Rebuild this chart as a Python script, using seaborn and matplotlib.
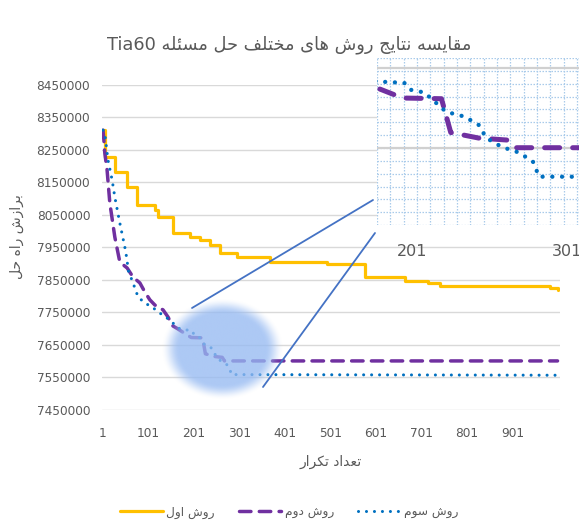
import numpy as np
import pandas as pd
import matplotlib
matplotlib.use("Agg")
import matplotlib.pyplot as plt
import seaborn as sns
from matplotlib.lines import Line2D
from matplotlib.patches import ConnectionPatch

# ---------------- data ----------------
iter_s1 = [1, 5, 27, 54, 76, 115, 122, 155, 192, 214, 236, 258, 296, 368, 493,
           577, 665, 715, 742, 983, 1000]
val_s1 = [8311000, 8228000, 8182000, 8136000, 8081000, 8065000, 8044000, 7994000,
          7982000, 7973000, 7958000, 7933000, 7921000, 7905000, 7899000, 7859000,
          7847000, 7841000, 7832000, 7825000, 7819000]

iter_s2 = [1, 3, 5, 10, 16, 27, 38, 54, 67, 82, 93, 104, 115, 133, 144, 153, 165,
           178, 195, 220, 226, 244, 263, 268, 1000]
val_s2 = [8311000, 8280000, 8240000, 8188000, 8087000, 7982000, 7905000, 7887000,
          7859000, 7841000, 7813000, 7789000, 7773000, 7758000, 7736000, 7710000,
          7700000, 7688000, 7673000, 7672000, 7623000, 7615000, 7612000, 7601000,
          7601000]

iter_s3 = [1, 5, 12, 21, 27, 38, 49, 54, 56, 67, 78, 93, 109, 122, 148, 166, 178,
           196, 200, 209, 214, 223, 235, 244, 249, 259, 270, 279, 283, 1000]
val_s3 = [8311000, 8300000, 8219000, 8158000, 8105000, 8025000, 7951000, 7911000,
          7881000, 7841000, 7798000, 7779000, 7767000, 7752000, 7727000, 7702000,
          7697000, 7695000, 7685000, 7681000, 7671000, 7653000, 7646000, 7634000,
          7615000, 7602000, 7594000, 7581000, 7559000, 7557000]

series_names = ["روش اول", "روش دوم", "روش سوم"]
title_ar = "مقایسه نتایج روش های مختلف حل مسئله"
title_lat = "Tia60"
x_label = "تعداد تکرار"
y_label = "برازش راه حل"
x_ticks = [1, 101, 201, 301, 401, 501, 601, 701, 801, 901]
y_ticks = [7450000, 7550000, 7650000, 7750000, 7850000, 7950000, 8050000,
           8150000, 8250000, 8350000, 8450000]
inset_ticks = [201, 301]

# ---------------- minimal Persian shaping (presentation forms) ----------------
FORMS = {
    "\u0627": ("\uFE8D", "\uFE8E", None, None),
    "\u0628": ("\uFE8F", "\uFE90", "\uFE91", "\uFE92"),
    "\u062A": ("\uFE95", "\uFE96", "\uFE97", "\uFE98"),
    "\u062C": ("\uFE9D", "\uFE9E", "\uFE9F", "\uFEA0"),
    "\u062D": ("\uFEA1", "\uFEA2", "\uFEA3", "\uFEA4"),
    "\u062E": ("\uFEA5", "\uFEA6", "\uFEA7", "\uFEA8"),
    "\u062F": ("\uFEA9", "\uFEAA", None, None),
    "\u0631": ("\uFEAD", "\uFEAE", None, None),
    "\u0632": ("\uFEAF", "\uFEB0", None, None),
    "\u0633": ("\uFEB1", "\uFEB2", "\uFEB3", "\uFEB4"),
    "\u0634": ("\uFEB5", "\uFEB6", "\uFEB7", "\uFEB8"),
    "\u0639": ("\uFEC9", "\uFECA", "\uFECB", "\uFECC"),
    "\u0641": ("\uFED1", "\uFED2", "\uFED3", "\uFED4"),
    "\u0642": ("\uFED5", "\uFED6", "\uFED7", "\uFED8"),
    "\u0643": ("\uFED9", "\uFEDA", "\uFEDB", "\uFEDC"),
    "\u0644": ("\uFEDD", "\uFEDE", "\uFEDF", "\uFEE0"),
    "\u0645": ("\uFEE1", "\uFEE2", "\uFEE3", "\uFEE4"),
    "\u0646": ("\uFEE5", "\uFEE6", "\uFEE7", "\uFEE8"),
    "\u0647": ("\uFEE9", "\uFEEA", "\uFEEB", "\uFEEC"),
    "\u0648": ("\uFEED", "\uFEEE", None, None),
    "\u0626": ("\uFE89", "\uFE8A", "\uFE8B", "\uFE8C"),
    "\u064A": ("\uFBFC", "\uFBFD", "\uFBFE", "\uFBFF"),
    "\u06CC": ("\uFBFC", "\uFBFD", "\uFBFE", "\uFBFF"),
    "\u06A9": ("\uFB8E", "\uFB8F", "\uFB90", "\uFB91"),
}


def rtl(text):
    chars = list(text)
    out = []
    for k, c in enumerate(chars):
        if c not in FORMS:
            out.append(c)
            continue
        prev = chars[k - 1] if k > 0 else None
        nxt = chars[k + 1] if k + 1 < len(chars) else None
        iso, fin, ini, med = FORMS[c]
        jp = prev in FORMS and FORMS[prev][2] is not None
        jn = nxt in FORMS and ini is not None
        if jp and jn:
            out.append(med)
        elif jp:
            out.append(fin)
        elif jn:
            out.append(ini)
        else:
            out.append(iso)
    return "".join(reversed(out))


# ---------------- style ----------------
sns.set_style("white")
plt.rcParams["font.family"] = ["DejaVu Sans"]
GRAY = "#595959"
C1, C2, C3 = "#FFC000", "#7030A0", "#0070C0"

W, H = 579, 521
fig = plt.figure(figsize=(W / 100, H / 100), dpi=100)

# main axes
L, R, T, B = 102, 560, 85, 410
ax = fig.add_axes([L / W, 1 - B / H, (R - L) / W, (B - T) / H])

df1 = pd.DataFrame({"it": iter_s1, "val": val_s1})
df2 = pd.DataFrame({"it": iter_s2, "val": val_s2})
df3 = pd.DataFrame({"it": iter_s3, "val": val_s3})

sns.lineplot(data=df1, x="it", y="val", ax=ax, color=C1, linewidth=2.3,
             drawstyle="steps-post", estimator=None, sort=False, legend=False)
sns.lineplot(data=df2, x="it", y="val", ax=ax, color=C2, linewidth=2.5,
             linestyle=(0, (3.3, 2.4)), dash_capstyle="round",
             estimator=None, sort=False, legend=False)
sns.lineplot(data=df3, x="it", y="val", ax=ax, color=C3, linewidth=2.2,
             linestyle=(0, (0.01, 2.6)), dash_capstyle="round",
             estimator=None, sort=False, legend=False)

xmin = 1 - (103 - L) / 0.455
xmax = 1 + (R - 103) / 0.455
ax.set_xlim(xmin, xmax)
ax.set_ylim(7450000, 8450000)
ax.set_xticks(x_ticks)
ax.set_yticks(y_ticks)
ax.set_yticklabels([str(v) for v in y_ticks])
ax.yaxis.grid(True, color="#D9D9D9", linewidth=1.0)
ax.xaxis.grid(False)
ax.set_axisbelow(True)
for s in ax.spines.values():
    s.set_visible(False)
ax.tick_params(axis="y", length=0, labelsize=8.7, colors=GRAY, pad=8.5)
ax.tick_params(axis="x", length=0, labelsize=8.7, colors=GRAY, pad=12)

ax.set_xlabel(rtl(x_label), fontsize=10, color=GRAY)
ax.xaxis.label.set_va("center")
ax.xaxis.set_label_coords(0.5, -(462 - B) / (B - T))
ax.set_ylabel(rtl(y_label), fontsize=10, color=GRAY)
ax.yaxis.label.set_va("center")
ax.yaxis.set_label_coords(-(L - 17) / (R - L), (B - 237) / (B - T))

# soft glow ellipse over the converging region
ppx = 0.455
def px2it(x):
    return 1 + (x - 103) / ppx
def py2val(y):
    return 8450000 - (y - T) / 32.5 * 100000

n = 300
gx, gy = np.meshgrid(np.linspace(-1, 1, n), np.linspace(-1, 1, n))
r = np.sqrt(gx ** 2 + gy ** 2)
a = np.clip((1 - r) / 0.3, 0, 1)
a = a * a * (3 - 2 * a) * 0.78
img = np.zeros((n, n, 4))
img[..., 0] = 150 / 255
img[..., 1] = 186 / 255
img[..., 2] = 242 / 255
img[..., 3] = a
ax.imshow(img, extent=[px2it(161), px2it(284), py2val(400), py2val(298)],
          aspect="auto", zorder=5, interpolation="bilinear")
ax.set_xlim(xmin, xmax)
ax.set_ylim(7450000, 8450000)

# ---------------- inset (magnified view) ----------------
IL, IR, IT, IB = 377, 579, 58, 225
rect = [IL / W, 1 - IB / H, (IR - IL) / W, (IB - IT) / H]
gax = fig.add_axes(rect, zorder=5)
gax.set_facecolor("white")
gax.set_xlim(0, 1)
gax.set_ylim(0, 1)
gax.set_xticks([])
gax.set_yticks([])
for s in gax.spines.values():
    s.set_visible(False)
grid_c = "#A9CBEA"
xs = np.arange(0, IR - IL + 1, 13.33) / (IR - IL)
ys = np.arange(0, IB - IT + 1, 12.85) / (IB - IT)
for xv in xs:
    gax.axvline(xv, color=grid_c, lw=0.9, ls=(0, (1.2, 1.2)))
for yv in ys:
    gax.axhline(1 - yv, color=grid_c, lw=0.9, ls=(0, (1.2, 1.2)))
for yp in (68, 148):
    gax.axhline((IB - yp) / (IB - IT), color="#D0D0D0", lw=1.6)

iax = fig.add_axes(rect, zorder=6)
iax.patch.set_alpha(0)
sns.lineplot(data=df2, x="it", y="val", ax=iax, color=C2, linewidth=3.6,
             linestyle=(0, (3.0, 2.6)), dash_capstyle="round",
             estimator=None, sort=False, legend=False)
sns.lineplot(data=df3, x="it", y="val", ax=iax, color=C3, linewidth=3.1,
             linestyle=(0, (0.01, 2.25)), dash_capstyle="round",
             estimator=None, sort=False, legend=False)
ipx = 1.55
iax.set_xlim(201 - (412 - IL) / ipx, 201 + (IR - 412) / ipx)
iax.set_ylim(7489000, 7731000)
iax.set_xticks(inset_ticks)
iax.set_yticks([])
iax.set_xlabel("")
iax.set_ylabel("")
for s in iax.spines.values():
    s.set_visible(False)
iax.tick_params(axis="x", length=0, labelsize=11.5, colors=GRAY, pad=14)

# connector lines from the zoomed region to the inset
for (xa, ya), (xb, yb) in [((192, 308), (373, 200)), ((263, 387), (375, 233))]:
    con = ConnectionPatch(xyA=(px2it(xa), py2val(ya)), coordsA=ax.transData,
                          xyB=((xb - IL) / (IR - IL), (IB - yb) / (IB - IT)),
                          coordsB=iax.transAxes, color="#4472C4", lw=1.3,
                          zorder=20)
    fig.add_artist(con)

# ---------------- title & legend ----------------
fig.text(0.5, 1 - 45 / H, title_lat + " " + rtl(title_ar), ha="center",
         va="center", fontsize=12.8, color=GRAY)

handles = [
    Line2D([], [], color=C1, lw=2.3),
    Line2D([], [], color=C2, lw=2.5, linestyle=(0, (3.3, 2.4)), dash_capstyle="round"),
    Line2D([], [], color=C3, lw=2.2, linestyle=(0, (0.01, 2.6)), dash_capstyle="round"),
]
fig.legend(handles, [rtl(s) for s in series_names], loc="center",
           bbox_to_anchor=(0.5, 1 - 512 / H), ncol=3, frameon=False,
           fontsize=8.7, handlelength=3.5, handletextpad=0.3,
           columnspacing=2.0, labelcolor=GRAY)

fig.savefig("out.png", dpi=100)
